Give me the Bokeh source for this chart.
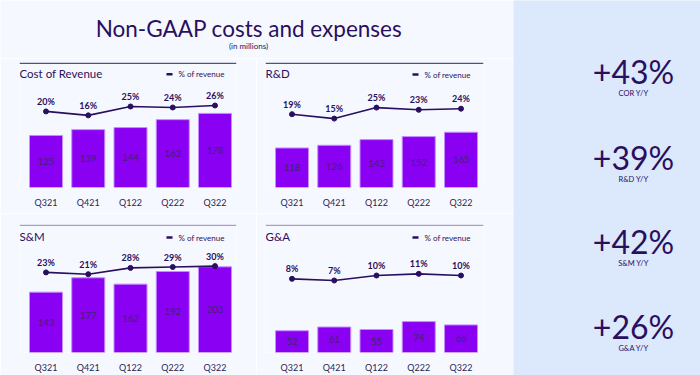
from bokeh.plotting import figure
from bokeh.layouts import row, column
from bokeh.models import Range1d, FixedTicker, Span, ColumnDataSource
from bokeh.core.properties import value
from bokeh.embed import file_html
from bokeh.resources import INLINE

# ---------------- data ----------------
quarters = ["Q321", "Q421", "Q122", "Q222", "Q322"]
cor_values = [125, 139, 144, 163, 178]
cor_pct = [20, 16, 25, 24, 26]
rd_values = [118, 126, 143, 152, 165]
rd_pct = [19, 15, 25, 23, 24]
sm_values = [143, 177, 162, 192, 203]
sm_pct = [23, 21, 28, 29, 30]
ga_values = [52, 61, 55, 74, 66]
ga_pct = [8, 7, 10, 11, 10]
panel_titles = ["Cost of Revenue", "R&D", "S&M", "G&A"]
legend_label = "% of revenue"
yoy_values = ["+43%", "+39%", "+42%", "+26%"]
yoy_labels = ["COR Y/Y", "R&D Y/Y", "S&M Y/Y", "G&A Y/Y"]
main_title = "Non-GAAP costs and expenses"
subtitle = "(in millions)"

# ---------------- style ----------------
FONT = "Lato"
BG = "#f5f9ff"
BG_RIGHT = "#dce8fc"
DARK = "#2a0f5e"
BAR = "#8a00f3"
BAR_EDGE = "#c48cff"
BAR_TEXT = "#40236f"
TICK_TEXT = "#2d2450"


def make_panel(name, vals, pcts, w, h, bl, br, bt, bb, bar_scale, line_scale,
               zero_off, rule_color, title_dy, legend_dy):
    fw = w - bl - br
    fh = h - bt - bb
    step = 42.25
    xs = -26.5 / step
    xe = xs + fw / step
    p = figure(width=w, height=h, output_backend="svg", toolbar_location=None,
               y_axis_location=None, x_range=Range1d(xs, xe),
               y_range=Range1d(0, fh / bar_scale),
               min_border_left=bl, min_border_right=br,
               min_border_top=bt, min_border_bottom=bb,
               background_fill_color=BG, border_fill_color=BG,
               outline_line_color=None)
    p.grid.visible = False
    ls = -zero_off / line_scale
    p.extra_y_ranges = {"pct": Range1d(ls, ls + fh / line_scale)}

    idx = list(range(len(quarters)))
    src = ColumnDataSource(dict(
        x=idx, v=vals, p=pcts,
        vt=[str(v) for v in vals],
        pt=[f"{q}%" for q in pcts],
        half=[v / 2 for v in vals],
    ))
    p.vbar(x="x", top="v", width=33 / step, source=src, fill_color=BAR,
           line_color=BAR_EDGE, line_width=1)
    p.text(x="x", y="half", text="vt", source=src, text_align="center",
           text_baseline="middle", text_font=value(FONT),
           text_font_size="9.5px", text_color=BAR_TEXT)
    p.line(x="x", y="p", y_range_name="pct", source=src, line_color=DARK,
           line_width=1.6)
    p.scatter(x="x", y="p", y_range_name="pct", source=src, size=5,
              fill_color=DARK, line_color=DARK)
    p.text(x="x", y="p", text="pt", y_range_name="pct", source=src,
           y_offset=-10, text_align="center", text_baseline="middle",
           text_font=value(FONT), text_font_size="9px",
           text_font_style="bold", text_color=DARK)

    def dx(px):
        return xs + px / step

    def dy(py):
        return (fh - py) / bar_scale

    p.add_layout(Span(location=dy(0.8), dimension="width",
                      line_color=rule_color, line_width=1.6))
    p.text(x=[dx(0)], y=[dy(title_dy)], text=[name], text_align="left",
           text_baseline="middle", text_font=value(FONT),
           text_font_size="11.5px", text_color=DARK)
    p.segment(x0=[dx(147)], x1=[dx(153)], y0=[dy(legend_dy)],
              y1=[dy(legend_dy)], line_width=2.4, line_color=DARK)
    p.text(x=[dx(159)], y=[dy(legend_dy)], text=[legend_label],
           text_align="left", text_baseline="middle", text_font=value(FONT),
           text_font_size="8px", text_color=DARK)

    ax = p.xaxis[0]
    ax.ticker = FixedTicker(ticks=idx)
    ax.major_label_overrides = {i: q for i, q in zip(idx, quarters)}
    ax.axis_line_color = None
    ax.major_tick_line_color = None
    ax.minor_tick_line_color = None
    ax.major_label_standoff = 3
    ax.major_label_text_font = FONT
    ax.major_label_text_font_size = "9px"
    ax.major_label_text_color = TICK_TEXT
    return p


p1 = make_panel(panel_titles[0], cor_values, cor_pct, 256, 155, 19, 20, 4, 24,
                0.423, 1.0, 57.3, "#5a4a85", 11, 12)
p2 = make_panel(panel_titles[1], rd_values, rd_pct, 257, 155, 9, 30, 4, 26,
                0.335, 1.1, 52.4, "#5a4a85", 11, 12)
p3 = make_panel(panel_titles[2], sm_values, sm_pct, 256, 162, 19, 20, 11, 23,
                0.422, 0.9, 59.4, "#a79dc6", 11.7, 13)
p4 = make_panel(panel_titles[3], ga_values, ga_pct, 257, 162, 9, 30, 11, 23,
                0.418, 1.67, 60.3, "#a79dc6", 11.7, 13)

# title strip
t = figure(width=513, height=58, output_backend="svg", toolbar_location=None,
           x_axis_location=None, y_axis_location=None,
           x_range=Range1d(0, 513), y_range=Range1d(58, 0),
           min_border=0, background_fill_color=BG, border_fill_color=BG,
           outline_line_color=None)
t.grid.visible = False
t.text(x=[248.5], y=[28], text=[main_title], text_align="center",
       text_baseline="middle", text_font=value(FONT), text_font_size="22.5px",
       text_color=DARK)
t.text(x=[248], y=[45], text=[subtitle], text_align="center",
       text_baseline="middle", text_font=value(FONT), text_font_size="8px",
       text_color=DARK)

# right strip
r = figure(width=187, height=375, output_backend="svg", toolbar_location=None,
           x_axis_location=None, y_axis_location=None,
           x_range=Range1d(0, 187), y_range=Range1d(375, 0),
           min_border=0, background_fill_color=BG_RIGHT,
           border_fill_color=BG_RIGHT, outline_line_color=None)
r.grid.visible = False
ycent = [71, 156.5, 241, 326]
r.text(x=[120] * 4, y=ycent, text=yoy_values, text_align="center",
       text_baseline="middle", text_font=value(FONT), text_font_size="32px",
       text_color=DARK)
r.text(x=[120] * 4, y=[y + 22 for y in ycent], text=yoy_labels,
       text_align="center", text_baseline="middle", text_font=value(FONT),
       text_font_size="7.5px", text_color=DARK)

layout = row(column(t, row(p1, p2), row(p3, p4)), r)
open("out.html", "w").write(file_html(layout, INLINE))
